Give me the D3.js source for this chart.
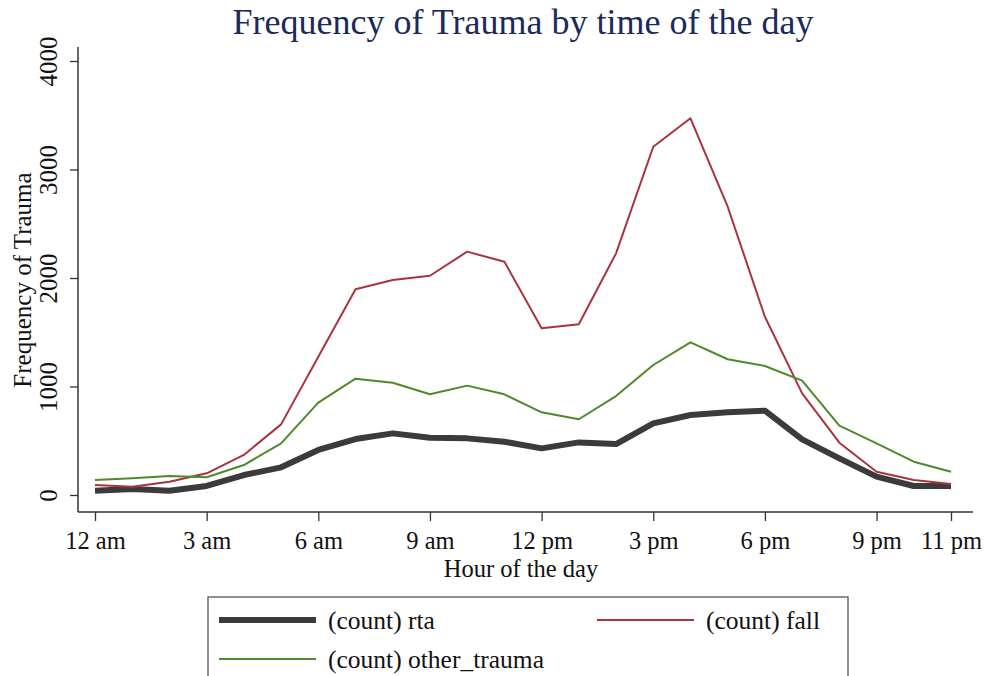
<!DOCTYPE html>
<html>
<head>
<meta charset="utf-8">
<script src="https://cdn.jsdelivr.net/npm/d3@7"></script>
<style>
  body { margin: 0; background: #fff; }
  svg { display: block; font-family: "Liberation Serif", "Times New Roman", serif; }
</style>
</head>
<body>
<svg width="990" height="676"></svg>
<script>
const svg = d3.select("svg");

// hours 0..23
const hours = d3.range(0, 24);
const rta = [40, 55, 40, 83, 184, 255, 415, 516, 568, 528, 522, 491, 430, 485, 470, 660, 737, 762, 777, 513, 338, 169, 83, 83];
const fall = [92, 77, 123, 200, 369, 651, 1275, 1896, 1982, 2021, 2243, 2150, 1536, 1573, 2227, 3210, 3472, 2657, 1643, 937, 482, 215, 138, 101];
const other = [138, 154, 175, 163, 276, 476, 851, 1072, 1035, 928, 1008, 928, 762, 698, 912, 1198, 1407, 1251, 1189, 1054, 639, 476, 307, 215];

const xTicks = [0, 3, 6, 9, 12, 15, 18, 21, 23];
const xTickLabels = ["12 am", "3 am", "6 am", "9 am", "12 pm", "3 pm", "6 pm", "9 pm", "11 pm"];
const yTicks = [0, 1000, 2000, 3000, 4000];

const series = [
  { name: "(count) rta", values: rta, color: "#3b3b3b", width: 6 },
  { name: "(count) fall", values: fall, color: "#a8343e", width: 2 },
  { name: "(count) other_trauma", values: other, color: "#4e8a2c", width: 2 }
];

const x = d3.scaleLinear().domain([0, 23]).range([95, 951]);
const y = d3.scaleLinear().domain([0, 4000]).range([495, 61]);

const axisLeftX = 78, axisBottomY = 512;

// title
svg.append("text")
  .attr("x", 523).attr("y", 34)
  .attr("text-anchor", "middle")
  .attr("font-size", 36)
  .attr("fill", "#1c2a59")
  .text("Frequency of Trauma by time of the day");

// y axis
const yAxis = svg.append("g")
  .attr("transform", `translate(${axisLeftX},0)`)
  .call(d3.axisLeft(y).tickValues(yTicks).tickSize(8).tickPadding(0).tickFormat(d3.format("d")));
yAxis.select(".domain").remove();
yAxis.selectAll(".tick line").attr("stroke", "#333").attr("stroke-width", 1.3);
yAxis.selectAll(".tick text")
  .attr("font-family", "Liberation Serif")
  .attr("font-size", 25)
  .attr("fill", "#111")
  .attr("text-anchor", "middle")
  .attr("x", 0)
  .attr("dy", 0)
  .attr("transform", "translate(-21,0) rotate(-90)");
yAxis.append("line")
  .attr("x1", 0).attr("x2", 0)
  .attr("y1", 47).attr("y2", axisBottomY)
  .attr("stroke", "#333").attr("stroke-width", 1.5);

// x axis
const xAxis = svg.append("g")
  .attr("transform", `translate(0,${axisBottomY})`)
  .call(d3.axisBottom(x).tickValues(xTicks).tickSize(9).tickPadding(11)
    .tickFormat((d, i) => xTickLabels[i]));
xAxis.select(".domain").remove();
xAxis.selectAll(".tick line").attr("stroke", "#333").attr("stroke-width", 1.3);
xAxis.selectAll(".tick text")
  .attr("font-family", "Liberation Serif")
  .attr("font-size", 24.5)
  .attr("fill", "#111");
xAxis.append("line")
  .attr("x1", axisLeftX).attr("x2", 973)
  .attr("y1", 0).attr("y2", 0)
  .attr("stroke", "#333").attr("stroke-width", 1.5);

// axis titles
svg.append("text")
  .attr("x", 521).attr("y", 577)
  .attr("text-anchor", "middle")
  .attr("font-size", 24.5)
  .attr("fill", "#111")
  .text("Hour of the day");

svg.append("text")
  .attr("transform", "translate(31,280) rotate(-90)")
  .attr("text-anchor", "middle")
  .attr("font-size", 25)
  .attr("fill", "#111")
  .text("Frequency of Trauma");

// lines
const line = d3.line()
  .x((d, i) => x(hours[i]))
  .y(d => y(d));

svg.selectAll("path.series")
  .data(series)
  .join("path")
  .attr("class", "series")
  .attr("d", d => line(d.values))
  .attr("fill", "none")
  .attr("stroke", d => d.color)
  .attr("stroke-width", d => d.width)
  .attr("stroke-linejoin", "round");

// legend
const legend = svg.append("g");
legend.append("rect")
  .attr("x", 208).attr("y", 597)
  .attr("width", 640).attr("height", 100)
  .attr("fill", "#fff")
  .attr("stroke", "#555")
  .attr("stroke-width", 1.3);

const legendPos = [
  { lx: 219, ly: 620 },
  { lx: 597, ly: 620 },
  { lx: 219, ly: 659 }
];

series.forEach((s, i) => {
  const p = legendPos[i];
  legend.append("line")
    .attr("x1", p.lx).attr("x2", p.lx + 97)
    .attr("y1", p.ly).attr("y2", p.ly)
    .attr("stroke", s.color)
    .attr("stroke-width", s.width);
  legend.append("text")
    .attr("x", p.lx + 109).attr("y", p.ly + 9)
    .attr("font-size", 25.5)
    .attr("fill", "#111")
    .text(s.name);
});
</script>
</body>
</html>
